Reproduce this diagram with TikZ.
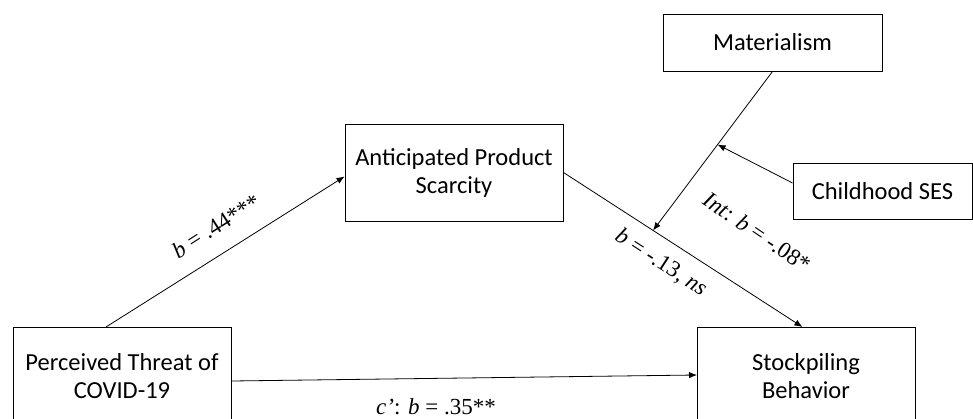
\documentclass[tikz,border=0pt]{standalone}
\usepackage{fontspec}
\setmainfont{Carlito}
\newfontfamily\tnr{Liberation Serif}
\usetikzlibrary{arrows.meta,calc}
\begin{document}
\begin{tikzpicture}[x=1pt,y=-1pt,
  box/.style={draw, line width=0.9pt, inner sep=0pt, align=center, font=\fontsize{24.5}{28}\selectfont},
  bodytext/.style={inner sep=0pt, align=center, font=\fontsize{24.5}{28}\selectfont},
  conn/.style={line width=0.8pt, -{Latex[length=8pt,width=6.5pt]}},
  lab/.style={inner sep=0pt, font=\tnr\fontsize{23}{25}\selectfont}]
\useasboundingbox (0,0) rectangle (973,419);
\clip (0,0) rectangle (973,419);
% boxes
\node[box, minimum width=218pt, minimum height=97pt] (ant) at (454,172.5) {Anticipated Product\\Scarcity};
\node[box, minimum width=219pt, minimum height=57pt] (mat) at (772.5,42.5) {Materialism};
\node[box, minimum width=179pt, minimum height=56pt] (ses) at (882.5,191) {Childhood SES};
\node[box, minimum width=218pt, minimum height=130pt, anchor=north west] (threat) at (13,327) {};
\node[bodytext] (threattext) at (122,376.5) {Perceived Threat of\\COVID-19};
\node[box, minimum width=218pt, minimum height=130pt, anchor=north west] (stock) at (697,327) {};
\node[bodytext] (stocktext) at (806,376) {Stockpiling\\Behavior};
% connectors
\coordinate (stin) at ([xshift=-4pt]stock.north);
\draw[conn] ([xshift=93pt]threat.north west) -- ([yshift=-4pt]ant.west);
\draw[conn] (ant.east) -- (stin);
\draw[conn] ([yshift=-54pt]threat.north east) -- ([yshift=-48pt]stock.north west);
\coordinate (modpt) at ($(ant.east)!0.375!(stin)$);
\draw[conn] (mat.south) -- (modpt);
\coordinate (sespt) at ($(mat.south)!0.46!(modpt)$);
\draw[conn] ([yshift=8pt]ses.west) -- (sespt);
% labels
\node[lab, rotate=32.5] (l1) at (216,226) {\textit{b} = .44***};
\node[lab, rotate=-33] (l2) at (661,263) {\textit{b} = -.13, \textit{ns}};
\node[lab, rotate=-34] (l3) at (757,232) {\textit{Int}: \textit{b} = -.08*};
\node[lab] (l4) at (436,407) {\textit{c’}: \textit{b} = .35**};
\end{tikzpicture}
\end{document}
